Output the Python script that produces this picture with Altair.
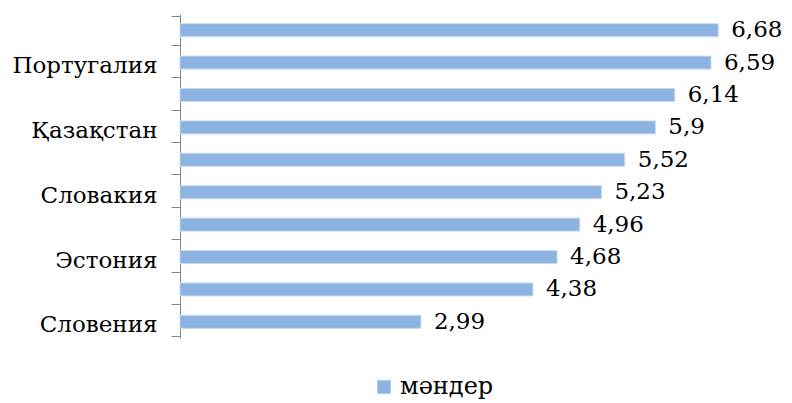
import altair as alt
import pandas as pd

labels = ["", "Португалия", "", "Қазақстан", "", "Словакия", "", "Эстония", "", "Словения"]
values = [6.68, 6.59, 6.14, 5.9, 5.52, 5.23, 4.96, 4.68, 4.38, 2.99]
series = "мәндер"

df = pd.DataFrame({"idx": list(range(len(values))), "name": labels, "value": values, "series": series})

label_js = "[" + ",".join("'" + s + "'" for s in labels) + "]"
FONT = "DejaVu Serif"
FS = 23
BAR = "#8DB3E2"

base = alt.Chart(df).encode(
    y=alt.Y("idx:O", title=None,
            axis=alt.Axis(labelExpr=label_js + "[datum.value]", tickBand="extent",
                          tickSize=9, tickColor="#868686", domainColor="#868686",
                          labelFont=FONT, labelFontSize=FS, labelColor="#000000",
                          labelPadding=14, labelOffset=3)),
)

bars = base.mark_bar(size=13, color=BAR, stroke="#C6D9F1", strokeWidth=1).encode(
    x=alt.X("value:Q", scale=alt.Scale(domain=[0, 7], nice=False), axis=None),
    color=alt.Color("series:N", scale=alt.Scale(range=[BAR]),
                    legend=alt.Legend(title=None, orient="none", legendX=192, legendY=361,
                                      labelFont=FONT, labelFontSize=24, labelColor="#000000",
                                      symbolType="square", symbolSize=180, symbolStrokeWidth=0,
                                      symbolOpacity=1)),
)

text = base.transform_calculate(
    lab="replace(toString(datum.value), '.', ',')"
).mark_text(align="left", baseline="middle", dx=13, font=FONT, fontSize=23, color="#000000").encode(
    x=alt.X("value:Q"),
    text="lab:N",
)

chart = (bars + text).properties(
    width=564, height=324,
    autosize=alt.AutoSizeParams(type="none"),
    padding={"left": 172, "top": 6, "right": 40, "bottom": 65},
).configure(background="#ffffff").configure_view(stroke=None)

chart.save("out.html", embed_options={"renderer": "svg", "actions": False})
